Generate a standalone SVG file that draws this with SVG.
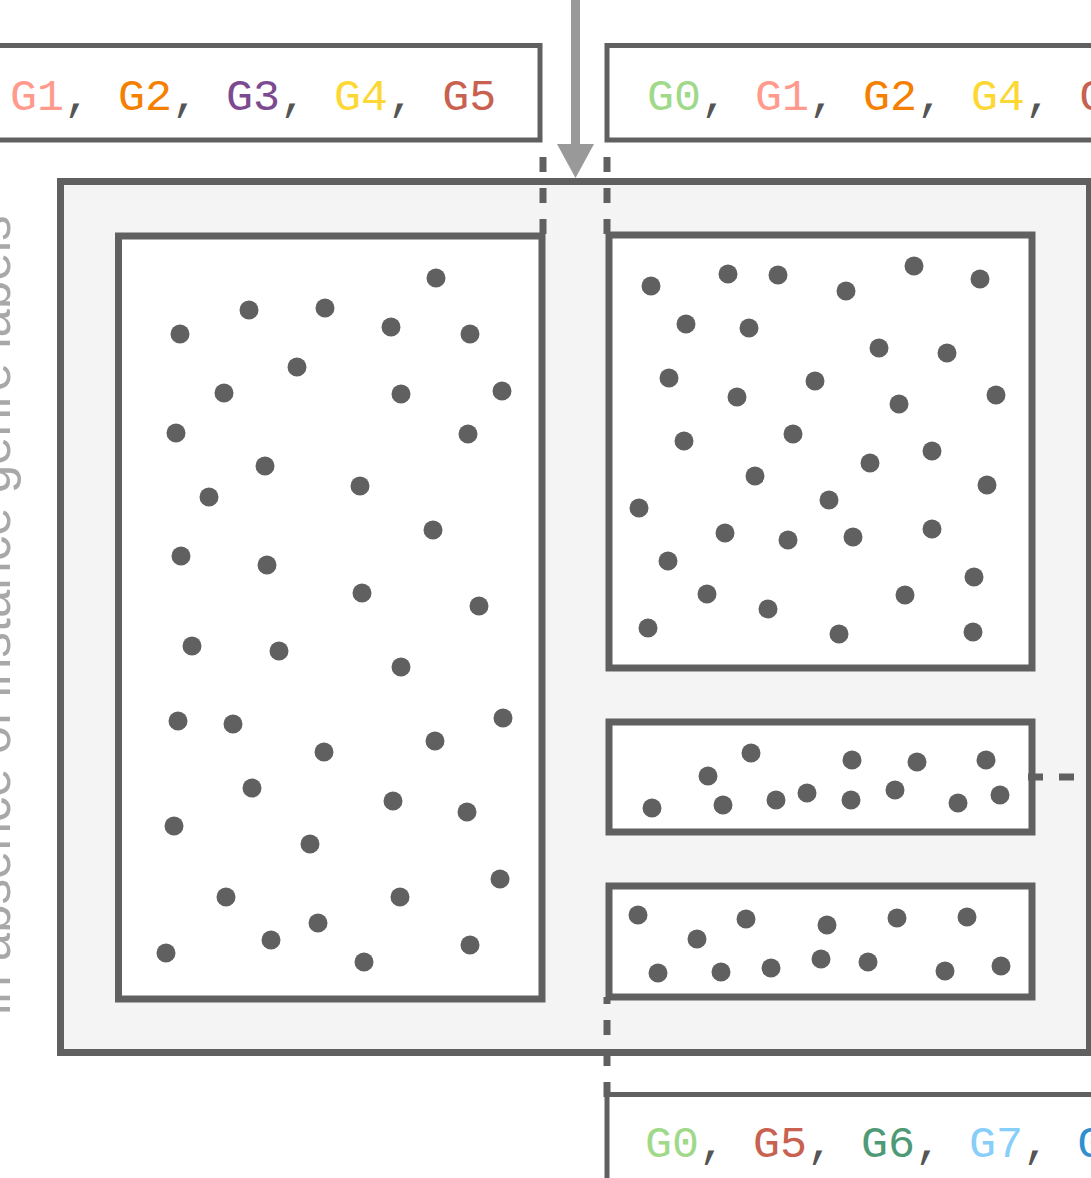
<svg xmlns="http://www.w3.org/2000/svg" width="1091" height="1178" viewBox="0 0 1091 1178">
<style>
.box{fill:#ffffff;stroke:#606060;stroke-width:7}
.outer{fill:#f4f4f4;stroke:#606060;stroke-width:7}
.lab{fill:#ffffff;stroke:#606060;stroke-width:5}
.dot{fill:#606060}
.dash{fill:none;stroke:#606060;stroke-width:7;stroke-dasharray:15 16}
.mono{font-family:"Liberation Mono","Courier New",monospace;font-size:45px;fill:#555555}
.side{font-family:"Liberation Sans",Arial,sans-serif;font-size:51px;fill:#a8a8a8}
.g0{fill:#a0d98a}.g1{fill:#ff9a8c}.g2{fill:#f57f00}.g3{fill:#7b4a91}.g4{fill:#fdd835}.g5{fill:#c8614f}.g6{fill:#4e9a77}.g7{fill:#87cefa}.g8{fill:#2f8fcf}
</style>
<defs>
<marker id="arr" markerUnits="userSpaceOnUse" markerWidth="34" markerHeight="37" refX="0" refY="18.5" orient="auto" viewBox="0 0 34 37">
<path d="M0,0 L34,18.5 L0,37 Z" fill="#999999"/>
</marker>
</defs>

<text class="side" transform="translate(10,1015) rotate(-90)">in absence of instance genre labels</text>

<g id="label-left">
<rect class="lab" x="-10" y="45.5" width="550" height="94.5"/>
<text class="mono" x="10" y="110"><tspan class="g1">G1</tspan>, <tspan class="g2">G2</tspan>, <tspan class="g3">G3</tspan>, <tspan class="g4">G4</tspan>, <tspan class="g5">G5</tspan></text>
</g>

<g id="label-right">
<rect class="lab" x="607" y="45.5" width="500" height="94.5"/>
<text class="mono" x="647" y="110"><tspan class="g0">G0</tspan>, <tspan class="g1">G1</tspan>, <tspan class="g2">G2</tspan>, <tspan class="g4">G4</tspan>, <tspan class="g5">G5</tspan></text>
</g>

<g id="label-bottom">
<rect class="lab" x="607" y="1094.5" width="500" height="100"/>
<text class="mono" x="645" y="1157"><tspan class="g0">G0</tspan>, <tspan class="g5">G5</tspan>, <tspan class="g6">G6</tspan>, <tspan class="g7">G7</tspan>, <tspan class="g8">G8</tspan></text>
</g>

<g id="container">
<rect class="outer" x="60.5" y="181.5" width="1029" height="871"/>
</g>

<g id="cluster-left">
<rect class="box" x="118.5" y="236" width="423.5" height="763"/>
<g class="dot">
<circle cx="436" cy="278" r="9.5"/><circle cx="249" cy="310" r="9.5"/><circle cx="325" cy="308" r="9.5"/><circle cx="180" cy="334" r="9.5"/><circle cx="391" cy="327" r="9.5"/><circle cx="470" cy="334" r="9.5"/><circle cx="297" cy="367" r="9.5"/><circle cx="224" cy="393" r="9.5"/><circle cx="401" cy="394" r="9.5"/><circle cx="502" cy="391" r="9.5"/><circle cx="176" cy="433" r="9.5"/><circle cx="468" cy="434" r="9.5"/><circle cx="265" cy="466" r="9.5"/><circle cx="360" cy="486" r="9.5"/><circle cx="209" cy="497" r="9.5"/><circle cx="433" cy="530" r="9.5"/><circle cx="181" cy="556" r="9.5"/><circle cx="267" cy="565" r="9.5"/><circle cx="362" cy="593" r="9.5"/><circle cx="479" cy="606" r="9.5"/><circle cx="192" cy="646" r="9.5"/><circle cx="279" cy="651" r="9.5"/><circle cx="401" cy="667" r="9.5"/><circle cx="178" cy="721" r="9.5"/><circle cx="233" cy="724" r="9.5"/><circle cx="503" cy="718" r="9.5"/><circle cx="324" cy="752" r="9.5"/><circle cx="435" cy="741" r="9.5"/><circle cx="252" cy="788" r="9.5"/><circle cx="393" cy="801" r="9.5"/><circle cx="174" cy="826" r="9.5"/><circle cx="467" cy="812" r="9.5"/><circle cx="310" cy="844" r="9.5"/><circle cx="500" cy="879" r="9.5"/><circle cx="226" cy="897" r="9.5"/><circle cx="400" cy="897" r="9.5"/><circle cx="318" cy="923" r="9.5"/><circle cx="271" cy="940" r="9.5"/><circle cx="166" cy="953" r="9.5"/><circle cx="364" cy="962" r="9.5"/><circle cx="470" cy="945" r="9.5"/>
</g>
</g>

<g id="cluster-top-right">
<rect class="box" x="609" y="235" width="423" height="433"/>
<g class="dot">
<circle cx="651" cy="286" r="9.5"/><circle cx="728" cy="274" r="9.5"/><circle cx="778" cy="275" r="9.5"/><circle cx="846" cy="291" r="9.5"/><circle cx="914" cy="266" r="9.5"/><circle cx="980" cy="279" r="9.5"/><circle cx="686" cy="324" r="9.5"/><circle cx="749" cy="328" r="9.5"/><circle cx="879" cy="348" r="9.5"/><circle cx="947" cy="353" r="9.5"/><circle cx="669" cy="378" r="9.5"/><circle cx="737" cy="397" r="9.5"/><circle cx="815" cy="381" r="9.5"/><circle cx="899" cy="404" r="9.5"/><circle cx="996" cy="395" r="9.5"/><circle cx="684" cy="441" r="9.5"/><circle cx="793" cy="434" r="9.5"/><circle cx="870" cy="463" r="9.5"/><circle cx="932" cy="451" r="9.5"/><circle cx="755" cy="476" r="9.5"/><circle cx="829" cy="500" r="9.5"/><circle cx="987" cy="485" r="9.5"/><circle cx="639" cy="508" r="9.5"/><circle cx="725" cy="533" r="9.5"/><circle cx="788" cy="540" r="9.5"/><circle cx="853" cy="537" r="9.5"/><circle cx="932" cy="529" r="9.5"/><circle cx="668" cy="561" r="9.5"/><circle cx="707" cy="594" r="9.5"/><circle cx="768" cy="609" r="9.5"/><circle cx="905" cy="595" r="9.5"/><circle cx="974" cy="577" r="9.5"/><circle cx="648" cy="628" r="9.5"/><circle cx="839" cy="634" r="9.5"/><circle cx="973" cy="632" r="9.5"/>
</g>
</g>

<g id="cluster-middle-right">
<rect class="box" x="609" y="722" width="423" height="110"/>
<g class="dot">
<circle cx="751" cy="753" r="9.5"/><circle cx="708" cy="776" r="9.5"/><circle cx="852" cy="760" r="9.5"/><circle cx="917" cy="762" r="9.5"/><circle cx="986" cy="760" r="9.5"/><circle cx="652" cy="808" r="9.5"/><circle cx="723" cy="805" r="9.5"/><circle cx="776" cy="800" r="9.5"/><circle cx="807" cy="793" r="9.5"/><circle cx="851" cy="800" r="9.5"/><circle cx="895" cy="790" r="9.5"/><circle cx="958" cy="803" r="9.5"/><circle cx="1000" cy="795" r="9.5"/>
</g>
</g>

<g id="cluster-bottom-right">
<rect class="box" x="609" y="886" width="423" height="111"/>
<g class="dot">
<circle cx="638" cy="915" r="9.5"/><circle cx="697" cy="939" r="9.5"/><circle cx="746" cy="919" r="9.5"/><circle cx="827" cy="925" r="9.5"/><circle cx="897" cy="918" r="9.5"/><circle cx="967" cy="917" r="9.5"/><circle cx="658" cy="973" r="9.5"/><circle cx="721" cy="972" r="9.5"/><circle cx="771" cy="968" r="9.5"/><circle cx="821" cy="959" r="9.5"/><circle cx="868" cy="962" r="9.5"/><circle cx="945" cy="971" r="9.5"/><circle cx="1001" cy="966" r="9.5"/>
</g>
</g>

<g id="connectors">
<line x1="575.5" y1="0" x2="575.5" y2="144" stroke="#999999" stroke-width="9" marker-end="url(#arr)"/>
<line class="dash" x1="543" y1="141" x2="543" y2="236" stroke-dashoffset="15"/>
<line class="dash" x1="607" y1="141" x2="607" y2="236" stroke-dashoffset="15"/>
<line class="dash" x1="607" y1="997" x2="607" y2="1097" stroke-dashoffset="8"/>
<line class="dash" x1="1028" y1="777" x2="1086" y2="777"/>
</g>
</svg>
